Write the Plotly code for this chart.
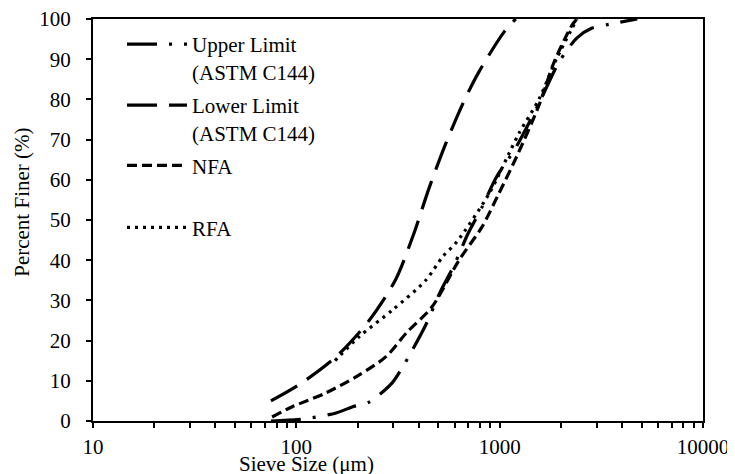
import plotly.graph_objects as go

# ---- data ----
upper_x = [75, 104, 157, 188, 228, 296, 331, 366, 434, 507, 600, 700, 819, 960, 1200, 1560, 1960, 2400, 2830, 3470, 4750]
upper_y = [0, 0.4, 2, 3.5, 4.7, 9.5, 13.2, 17, 24, 31.8, 39, 46.7, 53.2, 60.5, 68, 79, 89.3, 95.3, 97.7, 98.7, 100]

lower_x = [75, 103, 157, 228, 308, 377, 450, 543, 668, 792, 1052, 1200]
lower_y = [5, 9, 16, 25, 35.2, 46.4, 58, 69, 79.6, 86.9, 96.8, 100]

nfa_x = [76, 95, 140, 203, 276, 349, 465, 631, 819, 993, 1218, 1563, 1853, 2270, 2400]
nfa_y = [1, 3.5, 7, 11.4, 16, 22, 28.4, 40, 48.3, 56.7, 66, 78.6, 89.3, 98.5, 100]

rfa_x = [155, 204, 297, 433, 525, 614, 888, 1113, 1245, 1560, 1900, 2400]
rfa_y = [15, 21, 27.6, 35, 40.9, 44.5, 56.6, 66.6, 71.6, 80, 90, 100]

x_ticks = [10, 100, 1000, 10000]
x_tick_labels = ["10", "100", "1000", "10000"]
minor_ticks = [m * 10 ** k for k in range(1, 4) for m in range(2, 10)]

FONT = "Liberation Serif"
fig = go.Figure()

def add(name, xs, ys, dash, legend):
    fig.add_trace(go.Scatter(
        x=xs, y=ys, mode="lines", name=name, legend=legend,
        line=dict(color="black", width=3.2, dash=dash, shape="spline", smoothing=0.8),
    ))

add("Upper Limit<br>(ASTM C144)", upper_x, upper_y, "30px,12px,3px,12px", "legend")
add("Lower Limit<br>(ASTM C144)", lower_x, lower_y, "30px,12px", "legend2")
add("NFA", nfa_x, nfa_y, "10px,5px", "legend3")
add("RFA", rfa_x, rfa_y, "3px,5px", "legend4")

# page body has an 8px margin: work in screenshot pixels and shift by it
OFF = 8
W, H = 735 - OFF, 474 - OFF
L, T = 93 - OFF, 19 - OFF
pw, ph = 610, 402.5
R, B = W - L - pw, H - T - ph

def px2paper(px, py):
    return (px - OFF - L) / pw, (H - B - (py - OFF)) / ph

def leg(px, py):
    x, y = px2paper(px, py)
    return dict(x=x, y=y, xanchor="left", yanchor="middle", bgcolor="rgba(0,0,0,0)",
                borderwidth=0, font=dict(family=FONT, size=21, color="black"),
                itemwidth=60, valign="top", tracegroupgap=0)

fig.update_layout(
    width=W, height=H,
    margin=dict(l=L, r=R, t=T, b=B, autoexpand=False),
    paper_bgcolor="white", plot_bgcolor="white",
    font=dict(family=FONT, size=21, color="black"),
    showlegend=True,
    legend=leg(122, 58),
    legend2=leg(122, 119),
    legend3=leg(122, 166),
    legend4=leg(122, 228),
    xaxis=dict(
        type="log", range=[1, 4], tickvals=x_ticks, ticktext=x_tick_labels,
        ticks="outside", ticklen=5, tickwidth=2, tickcolor="black",
        showline=True, linewidth=2, linecolor="black", mirror=True,
        showgrid=False, zeroline=False, automargin=False,
        minor=dict(tickvals=minor_ticks, ticks="outside", ticklen=5, tickwidth=2, tickcolor="black", showgrid=False),
        tickfont=dict(family=FONT, size=21), ticklabelstandoff=1,
        ticklabeloverflow="allow",
    ),
    yaxis=dict(
        range=[0, 100], dtick=10, tick0=0,
        ticks="outside", ticklen=5, tickwidth=2, tickcolor="black",
        showline=True, linewidth=2, linecolor="black", mirror=True,
        showgrid=False, zeroline=False, automargin=False,
        tickfont=dict(family=FONT, size=21), ticklabelstandoff=11,
        ticklabeloverflow="allow",
    ),
    annotations=[
        dict(text="Sieve Size (μm)", xref="paper", yref="paper",
             x=px2paper(306, 0)[0], y=px2paper(0, 465)[1], xanchor="center", yanchor="middle",
             showarrow=False, font=dict(family=FONT, size=21)),
        dict(text="Percent Finer (%)", xref="paper", yref="paper", textangle=-90,
             x=px2paper(22, 0)[0], y=px2paper(0, 203)[1], xanchor="center", yanchor="middle",
             showarrow=False, font=dict(family=FONT, size=21)),
    ],
)

fig.write_html("out.html")
